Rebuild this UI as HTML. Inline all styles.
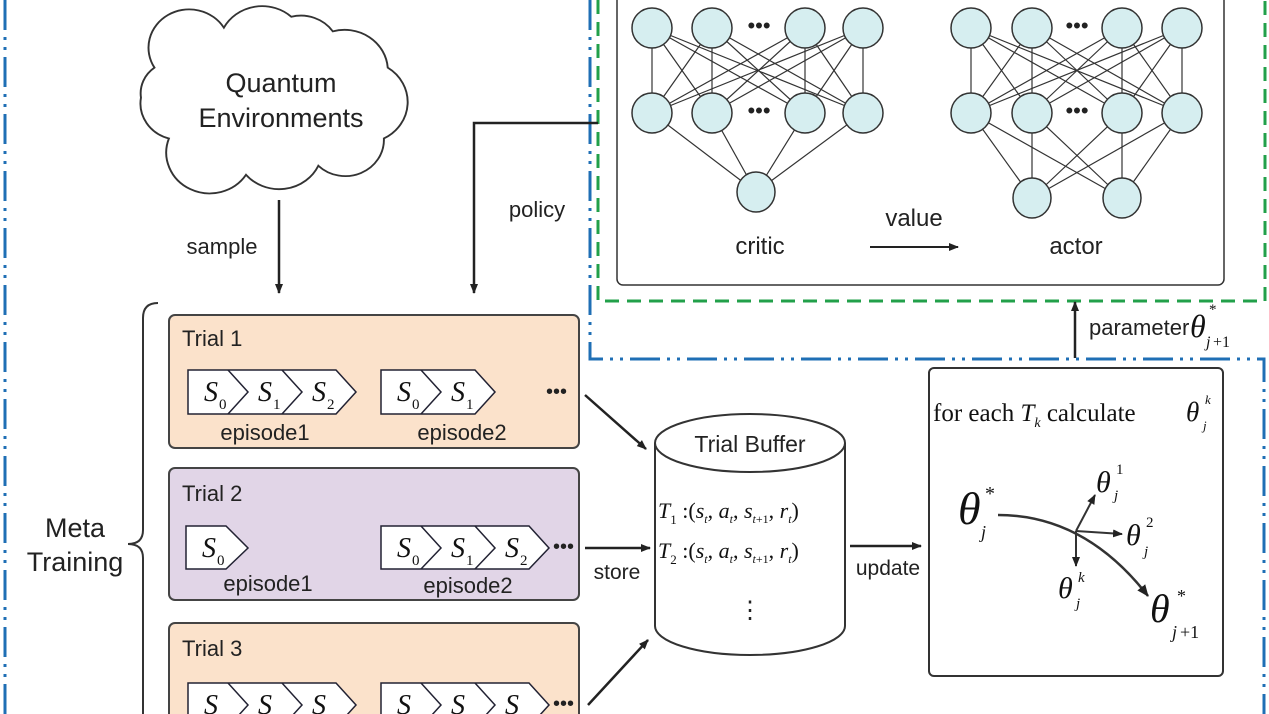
<!DOCTYPE html>
<html><head><meta charset="utf-8"><style>
html,body{margin:0;padding:0;background:#fff;width:1269px;height:714px;overflow:hidden}
svg{display:block}
.s{font-family:"Liberation Sans",sans-serif;fill:#222}
.m{font-family:"Liberation Serif",serif;font-style:italic;fill:#111}
.r{font-family:"Liberation Serif",serif;fill:#111}
</style></head><body>
<svg width="1269" height="714" viewBox="0 0 1269 714" xmlns="http://www.w3.org/2000/svg">
<defs>
<marker id="a" markerWidth="10" markerHeight="10" refX="9" refY="5" orient="auto" markerUnits="userSpaceOnUse" viewBox="0 0 10 10"><path d="M0,1 L10,5 L0,9 Z" fill="#222"/></marker>
<marker id="b" markerWidth="12" markerHeight="12" refX="11" refY="6" orient="auto" markerUnits="userSpaceOnUse" viewBox="0 0 12 12"><path d="M0,1 L12,6 L0,11 Z" fill="#222"/></marker>
</defs>

<g stroke="#1f6fb5" stroke-width="3" fill="none" stroke-dasharray="30,7,3,7,3,7">
<line x1="5" y1="0" x2="5" y2="714"/>
<polyline points="590,0 590,359 1264,359 1264,714"/>
</g>
<g stroke="#22a04a" stroke-width="3" fill="none" stroke-dasharray="14,8">
<polyline points="598,0 598,301 1265,301 1265,0"/>
</g>

<rect x="617" y="-6" width="607" height="291" rx="6" fill="#fff" stroke="#333" stroke-width="1.5"/>
<g stroke="#333" stroke-width="1.2">
<line x1="652" y1="28" x2="652" y2="113"/><line x1="652" y1="28" x2="712" y2="113"/><line x1="652" y1="28" x2="805" y2="113"/><line x1="652" y1="28" x2="863" y2="113"/>
<line x1="712" y1="28" x2="652" y2="113"/><line x1="712" y1="28" x2="712" y2="113"/><line x1="712" y1="28" x2="805" y2="113"/><line x1="712" y1="28" x2="863" y2="113"/>
<line x1="805" y1="28" x2="652" y2="113"/><line x1="805" y1="28" x2="712" y2="113"/><line x1="805" y1="28" x2="805" y2="113"/><line x1="805" y1="28" x2="863" y2="113"/>
<line x1="863" y1="28" x2="652" y2="113"/><line x1="863" y1="28" x2="712" y2="113"/><line x1="863" y1="28" x2="805" y2="113"/><line x1="863" y1="28" x2="863" y2="113"/>
<line x1="652" y1="113" x2="756" y2="192"/><line x1="712" y1="113" x2="756" y2="192"/><line x1="805" y1="113" x2="756" y2="192"/><line x1="863" y1="113" x2="756" y2="192"/>
<line x1="971" y1="28" x2="971" y2="113"/><line x1="971" y1="28" x2="1032" y2="113"/><line x1="971" y1="28" x2="1122" y2="113"/><line x1="971" y1="28" x2="1182" y2="113"/>
<line x1="1032" y1="28" x2="971" y2="113"/><line x1="1032" y1="28" x2="1032" y2="113"/><line x1="1032" y1="28" x2="1122" y2="113"/><line x1="1032" y1="28" x2="1182" y2="113"/>
<line x1="1122" y1="28" x2="971" y2="113"/><line x1="1122" y1="28" x2="1032" y2="113"/><line x1="1122" y1="28" x2="1122" y2="113"/><line x1="1122" y1="28" x2="1182" y2="113"/>
<line x1="1182" y1="28" x2="971" y2="113"/><line x1="1182" y1="28" x2="1032" y2="113"/><line x1="1182" y1="28" x2="1122" y2="113"/><line x1="1182" y1="28" x2="1182" y2="113"/>
<line x1="971" y1="113" x2="1032" y2="198"/><line x1="971" y1="113" x2="1122" y2="198"/>
<line x1="1032" y1="113" x2="1032" y2="198"/><line x1="1032" y1="113" x2="1122" y2="198"/>
<line x1="1122" y1="113" x2="1032" y2="198"/><line x1="1122" y1="113" x2="1122" y2="198"/>
<line x1="1182" y1="113" x2="1032" y2="198"/><line x1="1182" y1="113" x2="1122" y2="198"/>
</g>
<g fill="#d6eef0" stroke="#333" stroke-width="1.5">
<ellipse cx="652" cy="28" rx="20" ry="20"/><ellipse cx="712" cy="28" rx="20" ry="20"/><ellipse cx="805" cy="28" rx="20" ry="20"/><ellipse cx="863" cy="28" rx="20" ry="20"/>
<ellipse cx="652" cy="113" rx="20" ry="20"/><ellipse cx="712" cy="113" rx="20" ry="20"/><ellipse cx="805" cy="113" rx="20" ry="20"/><ellipse cx="863" cy="113" rx="20" ry="20"/>
<ellipse cx="756" cy="192" rx="19" ry="20"/>
<ellipse cx="971" cy="28" rx="20" ry="20"/><ellipse cx="1032" cy="28" rx="20" ry="20"/><ellipse cx="1122" cy="28" rx="20" ry="20"/><ellipse cx="1182" cy="28" rx="20" ry="20"/>
<ellipse cx="971" cy="113" rx="20" ry="20"/><ellipse cx="1032" cy="113" rx="20" ry="20"/><ellipse cx="1122" cy="113" rx="20" ry="20"/><ellipse cx="1182" cy="113" rx="20" ry="20"/>
<ellipse cx="1032" cy="198" rx="19" ry="20"/><ellipse cx="1122" cy="198" rx="19" ry="20"/>
</g>
<g class="s" font-size="22" text-anchor="middle">
<text x="759" y="33">•••</text><text x="759" y="118">•••</text>
<text x="1077" y="33">•••</text><text x="1077" y="118">•••</text>
</g>
<g class="s" font-size="24" text-anchor="middle">
<text x="760" y="254">critic</text>
<text x="914" y="226">value</text>
<text x="1076" y="254">actor</text>
</g>
<line x1="870" y1="247" x2="958" y2="247" stroke="#222" stroke-width="2" marker-end="url(#a)"/>

<line x1="1075" y1="358" x2="1075" y2="302" stroke="#222" stroke-width="2.5" marker-end="url(#a)"/>
<text class="s" x="1089" y="335" font-size="22">parameter</text>
<text class="m" x="1190" y="337" font-size="32">θ</text>
<text class="r" x="1209" y="314" font-size="15">*</text>
<text class="m" x="1206" y="347" font-size="16">j</text><text class="r" x="1213" y="347" font-size="16">+1</text>

<g transform="translate(140,5) scale(0.964,0.908) translate(-145,-3)">
<path d="M160,72 A40,40 0 0 1 232,28 A45,45 0 0 1 302,16 A40,40 0 0 1 345,32 A45,45 0 0 1 402,72 A45,45 0 0 1 398,150 A40,40 0 0 1 330,180 A45,45 0 0 1 255,190 A45,45 0 0 1 175,150 A40,40 0 0 1 146,105 A35,35 0 0 1 160,72 Z" fill="#fff" stroke="#333" stroke-width="2"/>
</g>
<g class="s" font-size="27" text-anchor="middle">
<text x="281" y="92">Quantum</text>
<text x="281" y="127">Environments</text>
</g>
<line x1="279" y1="200" x2="279" y2="293" stroke="#222" stroke-width="2.5" marker-end="url(#a)"/>
<text class="s" x="222" y="254" font-size="22" text-anchor="middle">sample</text>
<polyline points="598,123 474,123 474,293" fill="none" stroke="#222" stroke-width="2.5" marker-end="url(#a)"/>
<text class="s" x="537" y="217" font-size="22" text-anchor="middle">policy</text>

<path d="M158,303 Q143,303 143,318 L143,530 Q143,544 128,544 Q143,544 143,558 L143,714" fill="none" stroke="#333" stroke-width="2"/>
<g class="s" font-size="27" text-anchor="middle">
<text x="75" y="537">Meta</text>
<text x="75" y="571">Training</text>
</g>

<rect x="169" y="315" width="410" height="133" rx="6" fill="#fbe2cb" stroke="#444" stroke-width="2"/>
<rect x="169" y="468" width="410" height="132" rx="6" fill="#e1d5e7" stroke="#444" stroke-width="2"/>
<rect x="169" y="623" width="410" height="110" rx="6" fill="#fbe2cb" stroke="#444" stroke-width="2"/>
<g class="s" font-size="22">
<text x="182" y="346">Trial 1</text>
<text x="182" y="501">Trial 2</text>
<text x="182" y="656">Trial 3</text>
</g>

<g fill="#fff" stroke="#223" stroke-width="1.5">
<path d="M188,370 L336,370 L356,392 L336,414 L188,414 Z"/>
<polyline points="228,370 248,392 228,414" fill="none"/><polyline points="282,370 302,392 282,414" fill="none"/>
<path d="M381,370 L475,370 L495,392 L475,414 L381,414 Z"/>
<polyline points="421,370 441,392 421,414" fill="none"/>
<path d="M186,526 L226,526 L248,548 L226,569 L186,569 Z"/>
<path d="M381,526 L529,526 L549,548 L529,569 L381,569 Z"/>
<polyline points="421,526 441,548 421,569" fill="none"/><polyline points="475,526 495,548 475,569" fill="none"/>
<path d="M188,683 L336,683 L356,705 L336,727 L188,727 Z"/>
<polyline points="228,683 248,705 228,727" fill="none"/><polyline points="282,683 302,705 282,727" fill="none"/>
<path d="M381,683 L529,683 L549,705 L529,727 L381,727 Z"/>
<polyline points="421,683 441,705 421,727" fill="none"/><polyline points="475,683 495,705 475,727" fill="none"/>
</g>
<g class="m" font-size="28">
<text x="204" y="401">S</text><text x="258" y="401">S</text><text x="312" y="401">S</text>
<text x="397" y="401">S</text><text x="451" y="401">S</text>
<text x="202" y="557">S</text>
<text x="397" y="557">S</text><text x="451" y="557">S</text><text x="505" y="557">S</text>
<text x="204" y="714">S</text><text x="258" y="714">S</text><text x="312" y="714">S</text>
<text x="397" y="714">S</text><text x="451" y="714">S</text><text x="505" y="714">S</text>
</g>
<g class="r" font-size="15">
<text x="219" y="409">0</text><text x="273" y="409">1</text><text x="327" y="409">2</text>
<text x="412" y="409">0</text><text x="466" y="409">1</text>
<text x="217" y="565">0</text>
<text x="412" y="565">0</text><text x="466" y="565">1</text><text x="520" y="565">2</text>
</g>
<g class="s" font-size="22" text-anchor="middle">
<text x="265" y="440">episode1</text><text x="462" y="440">episode2</text>
<text x="268" y="591">episode1</text><text x="468" y="593">episode2</text>
</g>
<g class="s" font-size="20">
<text x="546" y="398">•••</text><text x="553" y="553">•••</text><text x="553" y="710">•••</text>
</g>

<g stroke="#222" stroke-width="2.5">
<line x1="585" y1="395" x2="646" y2="449" marker-end="url(#a)"/>
<line x1="585" y1="548" x2="650" y2="548" marker-end="url(#a)"/>
<line x1="588" y1="705" x2="648" y2="640" marker-end="url(#a)"/>
</g>
<text class="s" x="617" y="579" font-size="21" text-anchor="middle">store</text>

<path d="M655,443 L655,626 A95,29 0 0 0 845,626 L845,443" fill="#fff" stroke="#333" stroke-width="2"/>
<ellipse cx="750" cy="443" rx="95" ry="29" fill="#fff" stroke="#333" stroke-width="2"/>
<text class="s" x="750" y="452" font-size="23" text-anchor="middle">Trial Buffer</text>
<g class="r" font-size="22">
<text x="658" y="518"><tspan font-style="italic">T</tspan><tspan font-size="13" dy="6">1</tspan><tspan dy="-6"> :(</tspan><tspan font-style="italic">s</tspan><tspan font-size="12" dy="5" font-style="italic">t</tspan><tspan dy="-5">, </tspan><tspan font-style="italic">a</tspan><tspan font-size="12" dy="5" font-style="italic">t</tspan><tspan dy="-5">, </tspan><tspan font-style="italic">s</tspan><tspan font-size="12" dy="5"><tspan font-style="italic">t</tspan>+1</tspan><tspan dy="-5">, </tspan><tspan font-style="italic">r</tspan><tspan font-size="12" dy="5" font-style="italic">t</tspan><tspan dy="-5">)</tspan></text>
<text x="658" y="558"><tspan font-style="italic">T</tspan><tspan font-size="13" dy="6">2</tspan><tspan dy="-6"> :(</tspan><tspan font-style="italic">s</tspan><tspan font-size="12" dy="5" font-style="italic">t</tspan><tspan dy="-5">, </tspan><tspan font-style="italic">a</tspan><tspan font-size="12" dy="5" font-style="italic">t</tspan><tspan dy="-5">, </tspan><tspan font-style="italic">s</tspan><tspan font-size="12" dy="5"><tspan font-style="italic">t</tspan>+1</tspan><tspan dy="-5">, </tspan><tspan font-style="italic">r</tspan><tspan font-size="12" dy="5" font-style="italic">t</tspan><tspan dy="-5">)</tspan></text>
</g>
<text class="s" x="750" y="618" font-size="24" text-anchor="middle">⋮</text>

<line x1="850" y1="546" x2="921" y2="546" stroke="#222" stroke-width="2.5" marker-end="url(#a)"/>
<text class="s" x="888" y="575" font-size="21" text-anchor="middle">update</text>

<rect x="929" y="368" width="294" height="308" rx="5" fill="#fff" stroke="#333" stroke-width="2"/>
<text class="r" x="933" y="421" font-size="25">for each <tspan font-style="italic">T</tspan><tspan font-size="14" font-style="italic" dy="6">k</tspan><tspan dy="-6">  calculate</tspan></text>
<text class="m" x="1186" y="421" font-size="27">θ</text>
<text class="m" x="1205" y="404" font-size="13">k</text><text class="m" x="1203" y="430" font-size="13">j</text>

<path d="M998,515 Q1085,515 1148,596" fill="none" stroke="#333" stroke-width="2.5" marker-end="url(#b)"/>
<g stroke="#333" stroke-width="2">
<line x1="1076" y1="531" x2="1095" y2="495" marker-end="url(#a)"/>
<line x1="1076" y1="531" x2="1122" y2="534" marker-end="url(#a)"/>
<line x1="1076" y1="531" x2="1076" y2="566" marker-end="url(#a)"/>
</g>
<g class="m">
<text x="958" y="524" font-size="46">θ</text><text x="985" y="500" font-size="20" font-style="normal">*</text><text x="981" y="538" font-size="18">j</text>
<text x="1096" y="492" font-size="30">θ</text><text x="1116" y="474" font-size="15" font-style="normal">1</text><text x="1114" y="500" font-size="15">j</text>
<text x="1126" y="545" font-size="30">θ</text><text x="1146" y="527" font-size="15" font-style="normal">2</text><text x="1144" y="556" font-size="15">j</text>
<text x="1058" y="598" font-size="30">θ</text><text x="1078" y="582" font-size="15">k</text><text x="1076" y="608" font-size="15">j</text>
<text x="1150" y="622" font-size="40">θ</text><text x="1177" y="602" font-size="18" font-style="normal">*</text><text x="1172" y="638" font-size="18">j</text><text x="1180" y="638" font-size="18" font-style="normal">+1</text>
</g>
</svg>
</body></html>
